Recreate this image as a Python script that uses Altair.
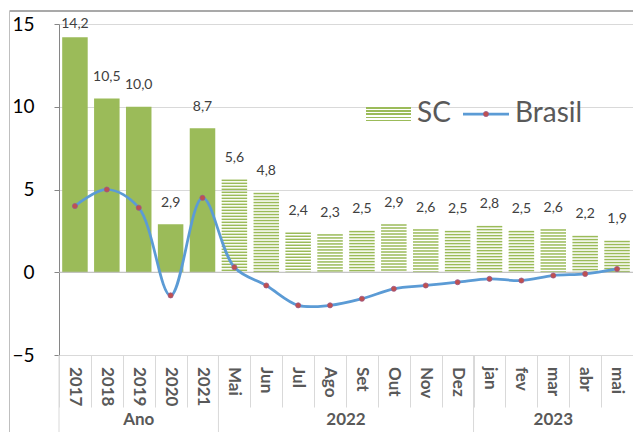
import altair as alt
import pandas as pd

# ---------------- data ----------------
categories = ["2017", "2018", "2019", "2020", "2021", "Mai", "Jun", "Jul", "Ago", "Set",
              "Out", "Nov", "Dez", "jan", "fev", "mar", "abr", "mai"]
sc_values = [14.2, 10.5, 10.0, 2.9, 8.7, 5.6, 4.8, 2.4, 2.3, 2.5, 2.9, 2.6, 2.5, 2.8, 2.5, 2.6, 2.2, 1.9]
brasil_values = [4.0, 5.0, 3.9, -1.4, 4.5, 0.3, -0.8, -2.0, -2.0, -1.6, -1.0, -0.8, -0.6, -0.4, -0.5, -0.2, -0.1, 0.2]
n_annual = 5  # first categories are annual (solid bars)
group_names = ["Ano", "2022", "2023"]
group_starts = ["2017", "Mai", "jan"]
group_label_at = ["2019", "Set", "mar"]
y_ticks = [-5, 0, 5, 10, 15]

GREEN = "#9BBB59"
BLUE = "#5B9BD5"
FONT = "Lato"
W, H = 574, 331
PAD_B = 77
PX_PER_UNIT = H / 20.0

df = pd.DataFrame({
    "cat": categories,
    "sc": sc_values,
    "br": brasil_values,
    "label": [f"{v:.1f}".replace(".", ",") for v in sc_values],
    "kind": ["ano"] * n_annual + ["mes"] * (len(categories) - n_annual),
})

# stripe pattern for monthly bars (derived from the values)
pitch = 3.0 / PX_PER_UNIT
thick = 1.5 / PX_PER_UNIT
stripe_rows = []
for c, v in zip(categories[n_annual:], sc_values[n_annual:]):
    top = v
    while top > 0:
        stripe_rows.append({"cat": c, "top": top, "bot": max(top - thick, 0)})
        top -= pitch
stripes = pd.DataFrame(stripe_rows)

yscale = alt.Scale(domain=[-5, 15], nice=False, zero=False)
yaxis = alt.Axis(values=y_ticks, title=None, labelFontSize=19, labelColor="black", labelFont=FONT,
                 labelPadding=20, tickSize=5, tickColor="#868686", domainColor="#868686",
                 grid=True, gridColor="#D9D9D9", labelFlush=False)
xscale = alt.Scale(paddingInner=0, paddingOuter=0)
xaxis = alt.Axis(title=None, labels=False, ticks=True, tickBand="extent", tickSize=52,
                 tickColor="#D9D9D9", domainColor="#D9D9D9", grid=False)


def X(**kw):
    return alt.X("cat:N", sort=categories, scale=xscale, axis=xaxis, **kw)


def Y(field):
    return alt.Y(field, scale=yscale, axis=yaxis)


base = alt.Chart(df)

solid = base.transform_filter(alt.datum.kind == "ano").mark_bar(
    color=GREEN, width=alt.RelativeBandSize(0.8)
).encode(x=X(), y=Y("sc:Q"))

striped = alt.Chart(stripes).mark_bar(color=GREEN, width=alt.RelativeBandSize(0.8)).encode(
    x=X(), y=Y("top:Q"), y2="bot:Q"
)

zero = alt.Chart(pd.DataFrame({"z": [0]})).mark_rule(color="#BFBFBF", strokeWidth=1).encode(
    y=Y("z:Q")
)

line = base.mark_line(color=BLUE, strokeWidth=2.75, interpolate="catmull-rom").encode(
    x=X(), y=Y("br:Q")
)
points = base.mark_circle(size=26, color="#C0504D", stroke="#9A5A8A", strokeWidth=0.8, opacity=1).encode(
    x=X(), y=Y("br:Q")
)

labels = base.transform_calculate(ly="min(datum.sc + 1.3, 15)").mark_text(
    fontSize=14, color="#404040", font=FONT, baseline="middle"
).encode(x=X(), y=Y("ly:Q"), text="label:N")

cat_labels = base.mark_text(angle=90, align="left", baseline="middle", fontSize=17,
                            fontWeight="bold", color="#595959", font=FONT).encode(
    x=X(), y=alt.value(H + 12), text="cat:N"
)

gdf = pd.DataFrame({"cat": group_starts})
group_sep = alt.Chart(gdf).mark_rule(color="#D9D9D9", strokeWidth=1).encode(
    x=X(bandPosition=0), y=alt.value(H), y2=alt.value(H + PAD_B)
)

gl = pd.DataFrame({"cat": group_label_at, "name": group_names})
group_lab_c = alt.Chart(gl).transform_filter(alt.datum.name != "2022").mark_text(
    fontSize=17, fontWeight="bold", color="#595959", font=FONT, baseline="middle"
).encode(x=X(), y=alt.value(H + 65), text="name:N")
group_lab_b = alt.Chart(gl).transform_filter(alt.datum.name == "2022").mark_text(
    fontSize=17, fontWeight="bold", color="#595959", font=FONT, baseline="middle"
).encode(x=X(bandPosition=0), y=alt.value(H + 65), text="name:N")

# ---------------- legend ----------------
one = pd.DataFrame({"sc": ["SC"], "br": ["Brasil"]})
stops = []
n_str = 5
for k in range(n_str):
    a = k / n_str
    b = a + 0.5 / n_str
    c = (k + 1) / n_str
    stops += [alt.GradientStop(color=GREEN, offset=a), alt.GradientStop(color=GREEN, offset=b),
              alt.GradientStop(color="white", offset=b), alt.GradientStop(color="white", offset=c)]
grad = alt.LinearGradient(gradient="linear", stops=stops, x1=0, x2=0, y1=0, y2=1)
leg_sw = alt.Chart(one).mark_rect(fill=grad).encode(
    x=alt.value(307), x2=alt.value(352), y=alt.value(83), y2=alt.value(99)
)
leg_sc = alt.Chart(one).mark_text(fontSize=28, color="#595959", font=FONT, align="left",
                                  baseline="middle").encode(
    x=alt.value(358), y=alt.value(90), text="sc:N"
)
leg_line = alt.Chart(one).mark_rule(color=BLUE, strokeWidth=2.75).encode(
    x=alt.value(404), x2=alt.value(450), y=alt.value(90)
)
leg_pt = alt.Chart(one).mark_circle(size=26, color="#C0504D", stroke="#9A5A8A", strokeWidth=0.8,
                                    opacity=1).encode(x=alt.value(427), y=alt.value(90))
leg_br = alt.Chart(one).mark_text(fontSize=28, color="#595959", font=FONT, align="left",
                                  baseline="middle").encode(
    x=alt.value(456), y=alt.value(90), text="br:N"
)

# ---------------- chart border ----------------
border_top = alt.Chart(one).mark_rule(color="#8C8C8C", strokeWidth=1.5).encode(
    x=alt.value(-49.5), x2=alt.value(W), y=alt.value(-13)
)
border_left = alt.Chart(one).mark_rule(color="#BFBFBF", strokeWidth=1).encode(
    x=alt.value(-49.5), y=alt.value(-13), y2=alt.value(H + PAD_B)
)

chart = alt.layer(
    solid, striped, zero, line, points, labels, cat_labels, group_sep, group_lab_c, group_lab_b,
    leg_sw, leg_sc, leg_line, leg_pt, leg_br, border_top, border_left
).properties(
    width=W, height=H,
    autosize=alt.AutoSizeParams(type="none"),
    padding={"left": 51, "top": 16, "right": 0, "bottom": PAD_B},
    background="white",
).configure_view(stroke=None)

chart.save("out.html", embed_options={"renderer": "svg", "actions": False})
